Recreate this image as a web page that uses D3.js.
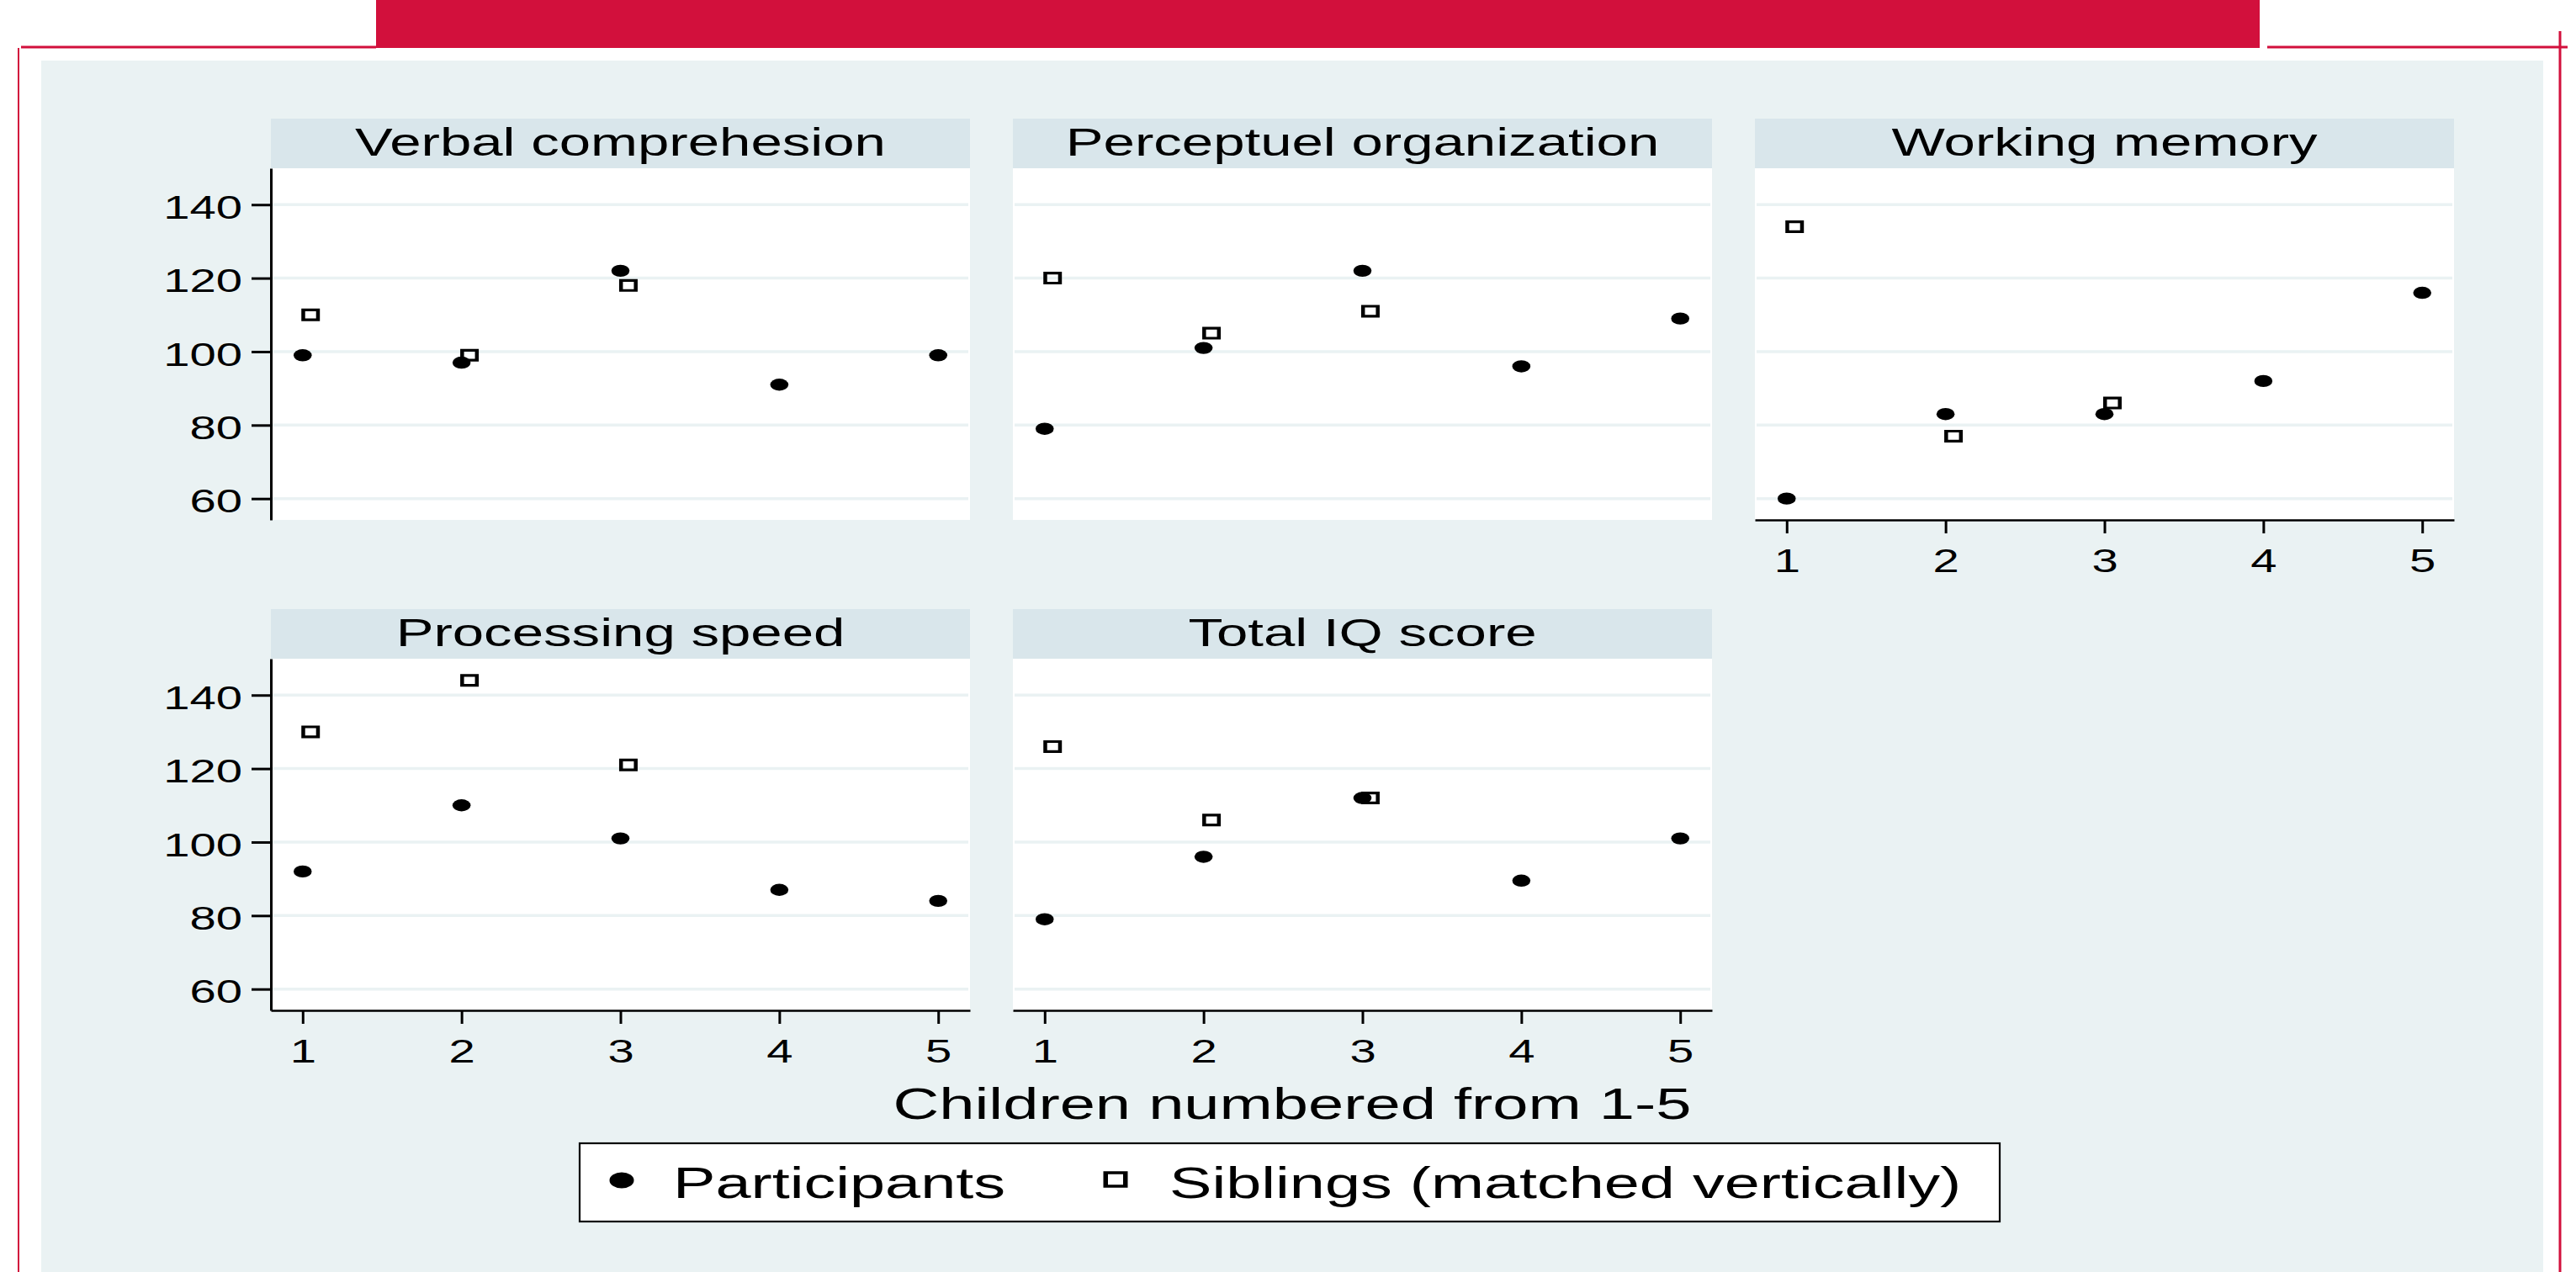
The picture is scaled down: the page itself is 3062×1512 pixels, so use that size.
<!DOCTYPE html>
<html>
<head>
<meta charset="utf-8">
<script src="https://cdn.jsdelivr.net/npm/d3@7"></script>
<style>
  html, body { margin: 0; padding: 0; background: #ffffff; }
  svg { display: block; }
  text { font-family: "Liberation Sans", Arial, Helvetica, sans-serif; fill: #000; }
</style>
</head>
<body>
<script>
// ---------------- data ----------------
const panelTitles = ["Verbal comprehesion", "Perceptuel organization", "Working memory", "Processing speed", "Total IQ score"];
const children = [1, 2, 3, 4, 5];
const siblingChildren = [1.05, 2.05, 3.05];

const verbalParticipants      = [99, 97, 122, 91, 99];
const verbalSiblings          = [110, 99, 118];
const perceptualParticipants  = [79, 101, 122, 96, 109];
const perceptualSiblings      = [120, 105, 111];
const workingParticipants     = [60, 83, 83, 92, 116];
const workingSiblings         = [134, 77, 86];
const speedParticipants       = [92, 110, 101, 87, 84];
const speedSiblings           = [130, 144, 121];
const iqParticipants          = [79, 96, 112, 89.5, 101];
const iqSiblings              = [126, 106, 112];

const yTicks = [60, 80, 100, 120, 140];
const xTicks = [1, 2, 3, 4, 5];
const xAxisTitle = "Children numbered from 1-5";
const legendLabels = ["Participants", "Siblings (matched vertically)"];

const participantSeries = [verbalParticipants, perceptualParticipants, workingParticipants, speedParticipants, iqParticipants];
const siblingSeries = [verbalSiblings, perceptualSiblings, workingSiblings, speedSiblings, iqSiblings];

// ---------------- layout ----------------
const W = 3062, H = 1512;
const SX = 1.46;              // horizontal stretch of the original picture
const RED = "#d2103c";
const BG = "#eaf2f3";
const STRIP = "#d9e6eb";
const GRID = "#eaf2f3";

const colX = [322, 1204, 2086];
const panelW = 831;
const headerTop = [141, 724];
const headerH = 59;
const plotH = 418;

const svg = d3.select("body").append("svg").attr("width", W).attr("height", H);

// decorations
svg.append("rect").attr("x", 0).attr("y", 0).attr("width", W).attr("height", H).attr("fill", "#fff");
svg.append("rect").attr("x", 49).attr("y", 72).attr("width", 2974).attr("height", H - 72).attr("fill", BG);
svg.append("rect").attr("x", 447).attr("y", 0).attr("width", 2239).attr("height", 57).attr("fill", RED);
svg.append("line").attr("x1", 25).attr("x2", 447).attr("y1", 56).attr("y2", 56).attr("stroke", RED).attr("stroke-width", 3);
svg.append("line").attr("x1", 2695).attr("x2", 3052).attr("y1", 56).attr("y2", 56).attr("stroke", RED).attr("stroke-width", 3);
svg.append("line").attr("x1", 22).attr("x2", 22).attr("y1", 57).attr("y2", H).attr("stroke", RED).attr("stroke-width", 2);
svg.append("line").attr("x1", 3043).attr("x2", 3043).attr("y1", 37).attr("y2", H).attr("stroke", RED).attr("stroke-width", 3);

function stext(g, x, y, str, size, anchor) {
  return g.append("text")
    .attr("transform", `translate(${x},${y}) scale(${SX},1)`)
    .attr("text-anchor", anchor)
    .style("font-size", size + "px")
    .text(str);
}

function hollowSquare(cx, cy, w, h, sw, sh) {
  const ow = w / 2, oh = h / 2, iw = ow - sw, ih = oh - sh;
  return `M${cx - ow},${cy - oh}H${cx + ow}V${cy + oh}H${cx - ow}Z` +
         `M${cx - iw},${cy - ih}H${cx + iw}V${cy + ih}H${cx - iw}Z`;
}

panelTitles.forEach((title, i) => {
  const row = Math.floor(i / 3), col = i % 3;
  const x0 = colX[col];
  const top = headerTop[row];
  const plotTop = top + headerH;
  const g = svg.append("g");

  // strip
  g.append("rect").attr("x", x0).attr("y", top).attr("width", panelW).attr("height", headerH).attr("fill", STRIP);
  stext(g, x0 + panelW / 2, top + 44, title, 46, "middle");

  // plot area
  g.append("rect").attr("x", x0).attr("y", plotTop).attr("width", panelW).attr("height", plotH).attr("fill", "#fff");

  const x = d3.scaleLinear().domain([0.8, 5.2]).range([x0, x0 + panelW]);
  const y = d3.scaleLinear().domain([54.2, 149.9]).range([plotTop + plotH, plotTop]);

  // gridlines
  g.selectAll(".grid").data(yTicks).enter().append("line")
    .attr("x1", x0 + 2).attr("x2", x0 + panelW - 2)
    .attr("y1", d => y(d)).attr("y2", d => y(d))
    .attr("stroke", GRID).attr("stroke-width", 3.5);

  // y axis on first column
  if (col === 0) {
    const ax = g.append("g").attr("transform", `translate(${x0},0)`)
      .call(d3.axisLeft(y).tickValues(yTicks).tickSize(23).tickSizeOuter(0).tickFormat(d3.format("d")));
    ax.select(".domain").attr("stroke", "#000").attr("stroke-width", 3);
    ax.selectAll(".tick line").attr("stroke", "#000").attr("stroke-width", 3);
    ax.selectAll(".tick text")
      .attr("x", -34 / SX).attr("dy", "0.42em")
      .attr("transform", `scale(${SX},1)`)
      .style("font-size", "38.5px").attr("fill", "#000")
      .style("font-family", "'Liberation Sans', Arial, sans-serif");
  }
  // x axis on bottom-most panel of each column
  if (row === 1 || col === 2) {
    const ax = g.append("g").attr("transform", `translate(0,${plotTop + plotH})`)
      .call(d3.axisBottom(x).tickValues(xTicks).tickSize(16).tickSizeOuter(0).tickFormat(d3.format("d")));
    ax.select(".domain").attr("stroke", "#000").attr("stroke-width", 2.5);
    ax.selectAll(".tick line").attr("stroke", "#000").attr("stroke-width", 3);
    ax.selectAll(".tick text")
      .attr("y", 62).attr("dy", "0")
      .attr("transform", `scale(${SX},1)`)
      .style("font-size", "38.5px").attr("fill", "#000")
      .style("font-family", "'Liberation Sans', Arial, sans-serif");
  }

  // participants
  g.selectAll(".p").data(participantSeries[i]).enter().append("ellipse")
    .attr("cx", (d, k) => x(children[k]))
    .attr("cy", d => y(d))
    .attr("rx", 10.8).attr("ry", 7.2)
    .attr("fill", "#000");

  // siblings
  g.selectAll(".s").data(siblingSeries[i]).enter().append("path")
    .attr("d", (d, k) => hollowSquare(x(siblingChildren[k]), y(d), 22, 15, 4.5, 3.2))
    .attr("fill", "#000").attr("fill-rule", "evenodd");
});

// axis title
stext(svg, 1536, 1330, xAxisTitle, 52, "middle");

// legend
const lg = svg.append("g");
lg.append("rect").attr("x", 689).attr("y", 1359).attr("width", 1688).attr("height", 93)
  .attr("fill", "#fff").attr("stroke", "#000").attr("stroke-width", 2.2);
lg.append("ellipse").attr("cx", 739).attr("cy", 1403).attr("rx", 14.5).attr("ry", 9.5).attr("fill", "#000");
stext(lg, 800, 1424, legendLabels[0], 51.8, "start");
lg.append("path").attr("d", hollowSquare(1326, 1402, 29, 19.5, 5.5, 3.6))
  .attr("fill", "#000").attr("fill-rule", "evenodd");
stext(lg, 1390, 1424, legendLabels[1], 51.8, "start");
</script>
</body>
</html>
